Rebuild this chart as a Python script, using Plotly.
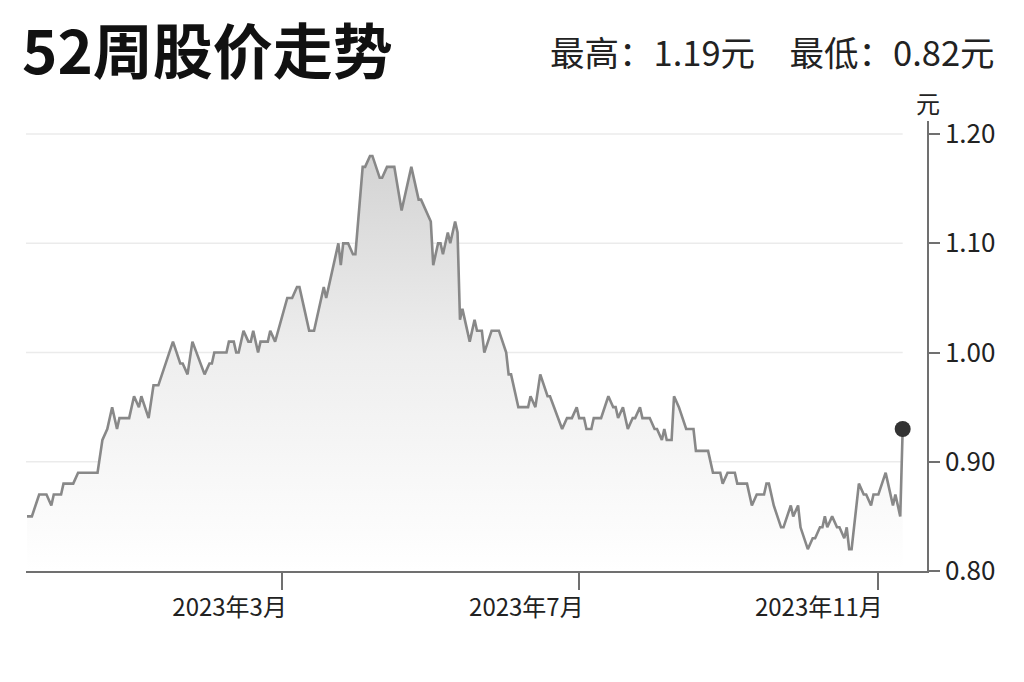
import plotly.graph_objects as go

dates = [
    "2022-11-16", "2022-11-18", "2022-11-21", "2022-11-24", "2022-11-26", "2022-11-27", "2022-11-30",
    "2022-12-01", "2022-12-05", "2022-12-07", "2022-12-15", "2022-12-17", "2022-12-19", "2022-12-21",
    "2022-12-23", "2022-12-24", "2022-12-28", "2022-12-30",
    "2023-01-01", "2023-01-02", "2023-01-05", "2023-01-07", "2023-01-09", "2023-01-15", "2023-01-18",
    "2023-01-19", "2023-01-21", "2023-01-23", "2023-01-28", "2023-01-30", "2023-01-31",
    "2023-02-01", "2023-02-06", "2023-02-07", "2023-02-09", "2023-02-10", "2023-02-11", "2023-02-13",
    "2023-02-15", "2023-02-16", "2023-02-17", "2023-02-19", "2023-02-20", "2023-02-23", "2023-02-24",
    "2023-02-26",
    "2023-03-03", "2023-03-05", "2023-03-07", "2023-03-08", "2023-03-10", "2023-03-12", "2023-03-14",
    "2023-03-18", "2023-03-19", "2023-03-24", "2023-03-25", "2023-03-26", "2023-03-28", "2023-03-30",
    "2023-03-31",
    "2023-04-03", "2023-04-04", "2023-04-06", "2023-04-07", "2023-04-10", "2023-04-11", "2023-04-13",
    "2023-04-16", "2023-04-19", "2023-04-23", "2023-04-26", "2023-04-27", "2023-04-29",
    "2023-05-01", "2023-05-02", "2023-05-04", "2023-05-05", "2023-05-06", "2023-05-08", "2023-05-09",
    "2023-05-11", "2023-05-12", "2023-05-13", "2023-05-14", "2023-05-17", "2023-05-19", "2023-05-20",
    "2023-05-22", "2023-05-23", "2023-05-26", "2023-05-29",
    "2023-06-01", "2023-06-02", "2023-06-03", "2023-06-06", "2023-06-10", "2023-06-11", "2023-06-13",
    "2023-06-15", "2023-06-18", "2023-06-19", "2023-06-24", "2023-06-26", "2023-06-28", "2023-06-30",
    "2023-07-01", "2023-07-03", "2023-07-04", "2023-07-06", "2023-07-07", "2023-07-10", "2023-07-13",
    "2023-07-15", "2023-07-16", "2023-07-17", "2023-07-19", "2023-07-21", "2023-07-23", "2023-07-24",
    "2023-07-26", "2023-07-27", "2023-07-30",
    "2023-08-01", "2023-08-02", "2023-08-04", "2023-08-05", "2023-08-06", "2023-08-08", "2023-08-09",
    "2023-08-11", "2023-08-14", "2023-08-17", "2023-08-18", "2023-08-23", "2023-08-25", "2023-08-28",
    "2023-08-29", "2023-08-31",
    "2023-09-03", "2023-09-04", "2023-09-08", "2023-09-10", "2023-09-12", "2023-09-15", "2023-09-16",
    "2023-09-17", "2023-09-19", "2023-09-22", "2023-09-23", "2023-09-26", "2023-09-27", "2023-09-29",
    "2023-09-30",
    "2023-10-03", "2023-10-05", "2023-10-06", "2023-10-08", "2023-10-09", "2023-10-10", "2023-10-11",
    "2023-10-13", "2023-10-15", "2023-10-16", "2023-10-18", "2023-10-19", "2023-10-20", "2023-10-21",
    "2023-10-24", "2023-10-26", "2023-10-27", "2023-10-29", "2023-10-30",
    "2023-11-01", "2023-11-04", "2023-11-05", "2023-11-07", "2023-11-08", "2023-11-10", "2023-11-11",
]

prices = [
    0.85, 0.85, 0.87, 0.87, 0.86, 0.87, 0.87,
    0.88, 0.88, 0.89, 0.89, 0.92, 0.93, 0.95,
    0.93, 0.94, 0.94, 0.96,
    0.95, 0.96, 0.94, 0.97, 0.97, 1.01, 0.99,
    0.99, 0.98, 1.01, 0.98, 0.99, 0.99,
    1.00, 1.00, 1.01, 1.01, 1.00, 1.00, 1.02,
    1.01, 1.01, 1.02, 1.00, 1.01, 1.01, 1.02,
    1.01,
    1.05, 1.05, 1.06, 1.06, 1.04, 1.02, 1.02,
    1.06, 1.05, 1.10, 1.08, 1.10, 1.10, 1.09,
    1.09,
    1.17, 1.17, 1.18, 1.18, 1.16, 1.16, 1.17,
    1.17, 1.13, 1.17, 1.14, 1.14, 1.13,
    1.12, 1.08, 1.10, 1.10, 1.09, 1.11, 1.10,
    1.12, 1.11, 1.03, 1.04, 1.01, 1.03, 1.02,
    1.02, 1.00, 1.02, 1.02,
    1.00, 0.98, 0.98, 0.95, 0.95, 0.96, 0.95,
    0.98, 0.96, 0.96, 0.93, 0.94, 0.94, 0.95,
    0.94, 0.94, 0.93, 0.93, 0.94, 0.94, 0.96,
    0.95, 0.95, 0.94, 0.95, 0.93, 0.94, 0.94,
    0.95, 0.94, 0.94,
    0.93, 0.93, 0.92, 0.93, 0.92, 0.92, 0.96,
    0.95, 0.93, 0.93, 0.91, 0.91, 0.89, 0.89,
    0.88, 0.89,
    0.89, 0.88, 0.88, 0.86, 0.87, 0.87, 0.88,
    0.88, 0.86, 0.84, 0.84, 0.86, 0.85, 0.86,
    0.84,
    0.82, 0.83, 0.83, 0.84, 0.84, 0.85, 0.84,
    0.85, 0.84, 0.84, 0.83, 0.84, 0.82, 0.82,
    0.88, 0.87, 0.87, 0.86, 0.87,
    0.87, 0.89, 0.88, 0.86, 0.87, 0.85, 0.93,
]

y_ticks = [0.80, 0.90, 1.00, 1.10, 1.20]
x_ticks = ["2023-03-01", "2023-07-01", "2023-11-01"]
x_tick_text = ["2023年3月", "2023年7月", "2023年11月"]

title = "52周股价走势"
high_low = "最高：1.19元　最低：0.82元"
font = "Noto Sans CJK SC"

# the page body adds an 8px margin, so the figure is drawn 8px smaller
W, H = 1016, 674

fig = go.Figure()

fig.add_trace(go.Scatter(
    x=dates, y=prices, mode="lines",
    line=dict(color="#888888", width=2.6),
    fill="tozeroy",
    fillgradient=dict(type="vertical", start=0.80, stop=1.20,
                      colorscale=[[0, "rgba(255,255,255,1)"], [0.5, "rgba(238,238,238,1)"],
                                  [1, "rgba(208,208,208,1)"]]),
    hoverinfo="skip",
))

fig.add_trace(go.Scatter(
    x=[dates[-1]], y=[prices[-1]], mode="markers",
    marker=dict(color="#333333", size=16),
    hoverinfo="skip",
))

# gridlines stop a little short of the right-hand axis
for v in y_ticks[1:]:
    fig.add_shape(type="line", xref="paper", yref="y", x0=0, x1=0.973, y0=v, y1=v,
                  line=dict(color="#ebebeb", width=1.5), layer="below")

fig.update_layout(
    width=W, height=H,
    margin=dict(l=18, r=97, t=113, b=111),
    plot_bgcolor="white", paper_bgcolor="white",
    showlegend=False,
    font=dict(family=font, color="#222222"),
    title=dict(text=title, xref="container", yref="container", x=14 / W, y=1 - 45 / H,
               xanchor="left", yanchor="middle",
               font=dict(family=font, size=60, color="#111111", weight=700)),
)

fig.add_annotation(text=high_low, xref="paper", yref="paper", x=1.0777, y=1.1556,
                   xanchor="right", yanchor="middle", showarrow=False,
                   font=dict(family=font, size=34.5, color="#222222"))
fig.add_annotation(text="元", xref="paper", yref="paper", x=1.0011, y=1.04,
                   xanchor="center", yanchor="middle", showarrow=False,
                   font=dict(family=font, size=24, color="#222222"))

fig.update_xaxes(
    type="date", range=["2022-11-15 14:00", "2023-11-21"],
    showgrid=False, showline=True, linecolor="#707070", linewidth=1.5,
    ticks="outside", ticklen=17, tickwidth=1.5, tickcolor="#707070",
    tickvals=x_ticks, ticktext=x_tick_text, ticklabelposition="outside left",
    ticklabelstandoff=14, ticklabelshift=6,
    tickfont=dict(family=font, size=24, color="#222222"),
    zeroline=False,
)
fig.update_yaxes(
    side="right", range=[0.80, 1.212],
    showgrid=False, showline=True, linecolor="#707070", linewidth=1.5,
    ticks="outside", ticklen=11, tickwidth=1.5, tickcolor="#707070",
    tickvals=y_ticks, tickformat=".2f",
    tickfont=dict(family=font, size=26, color="#222222"),
    zeroline=False,
)

fig.write_html("out.html")
